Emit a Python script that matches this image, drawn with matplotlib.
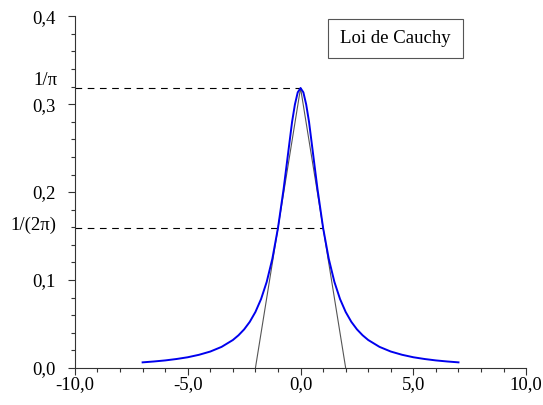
import matplotlib
matplotlib.use("Agg")
import matplotlib.pyplot as plt
from matplotlib.ticker import MultipleLocator
from matplotlib.patches import Rectangle

plt.rcParams['font.family'] = ['Liberation Serif', 'DejaVu Serif']

# Curve values (half curve, x >= 0), mirrored for x < 0
x_half = [0, 0.125, 0.25, 0.375, 0.5, 0.75, 1.0, 1.25, 1.5, 1.75, 2.0, 2.25, 2.5, 2.75,
          3.0, 3.5, 4.0, 4.5, 5.0, 5.5, 6.0, 6.5, 7.0]
y_half = [0.3183, 0.3134, 0.2996, 0.2800, 0.2546, 0.2037, 0.1592, 0.1242, 0.0979, 0.0784,
          0.0637, 0.0525, 0.0439, 0.0372, 0.0318, 0.0240, 0.0187, 0.0150, 0.0122,
          0.0102, 0.0086, 0.0074, 0.0064]
x_curve = [-v for v in x_half[:0:-1]] + x_half
y_curve = y_half[:0:-1] + y_half

# Triangle (tangent lines)
tri_x = [-2, 0, 2]
tri_y = [0, 0.3183, 0]

peak = 0.3183
half = 0.1592
y_major = [0.0, 0.1, 0.2, 0.3, 0.4]
y_major_labels = ['0,0', '0,1', '0,2', '0,3', '0,4']
x_major = [-10, -5, 0, 5, 10]
x_major_labels = ['-10,0', '-5,0', '0,0', '5,0', '10,0']

FS = 13.5
fig = plt.figure(figsize=(5.43, 4.05), dpi=100)
ax = fig.add_axes([0.138, 0.0914, 0.831, 0.8686])

ax.plot(x_curve, y_curve, color='#0000ee', lw=1.4, zorder=3)
ax.plot(tri_x, tri_y, color='#555555', lw=0.8, zorder=2)
ax.plot([-10, 0], [peak, peak], color='black', lw=0.8, dashes=(6, 5), zorder=2)
ax.plot([-10, 1], [half, half], color='black', lw=0.8, dashes=(6, 5), zorder=2)

ax.set_xlim(-10, 10)
ax.set_ylim(0, 0.4)
for s in ['top', 'right']:
    ax.spines[s].set_visible(False)
for s in ['left', 'bottom']:
    ax.spines[s].set_linewidth(0.8)
    ax.spines[s].set_color('#333333')

ax.set_xticks(x_major)
ax.set_xticklabels(x_major_labels, fontsize=FS)
ax.set_yticks(y_major)
ax.set_yticklabels(y_major_labels, fontsize=FS)
ax.xaxis.set_minor_locator(MultipleLocator(1))
ax.yaxis.set_minor_locator(MultipleLocator(0.02))
ax.tick_params(which='major', length=5, width=0.8, color='#333333')
ax.tick_params(which='minor', length=3, width=0.8, color='#333333')
ax.tick_params(axis='y', which='major', pad=9)
ax.tick_params(axis='x', which='major', pad=1)

ax.annotate('1/π', xy=(0, peak), xycoords=('axes fraction', 'data'),
            xytext=(-17, 8), textcoords='offset pixels',
            ha='right', va='center', fontsize=FS, annotation_clip=False)
ax.annotate('1/(2π)', xy=(0, half), xycoords=('axes fraction', 'data'),
            xytext=(-19, 3), textcoords='offset pixels',
            ha='right', va='center', fontsize=FS, annotation_clip=False)

# Label box
fig.patches.append(Rectangle((0.6041, 0.8568), 0.2486, 0.0963,
                             transform=fig.transFigure, fc='white',
                             ec='#555555', lw=0.8, zorder=5))
fig.text(0.7284, 0.9049, 'Loi de Cauchy', ha='center', va='center',
         fontsize=FS, zorder=6)

fig.savefig('out.png', dpi=100)
